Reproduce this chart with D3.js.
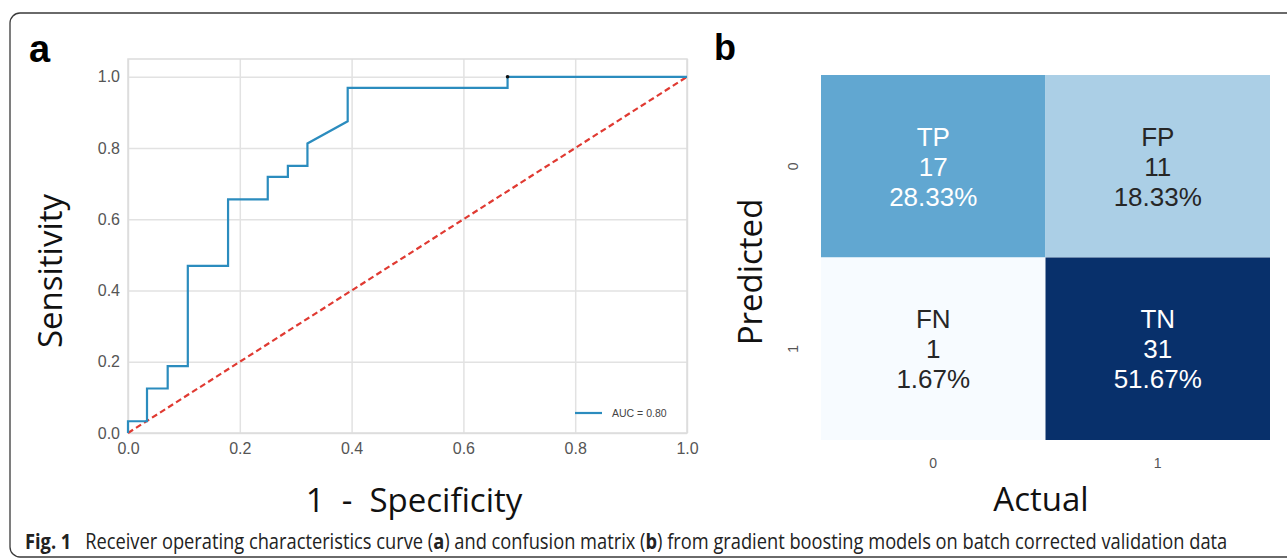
<!DOCTYPE html>
<html>
<head>
<meta charset="utf-8">
<script src="https://cdn.jsdelivr.net/npm/d3@7"></script>
<style>
  body { margin: 0; background: #fff; }
  svg { display: block; }
</style>
</head>
<body>
<svg></svg>
<script>
// ROC curve points
const fpr = [0, 0, 0.034, 0.034, 0.071, 0.071, 0.107, 0.107, 0.179, 0.179, 0.25, 0.25, 0.286, 0.286, 0.321, 0.321, 0.393, 0.393, 0.679, 0.679, 1];
const tpr = [0, 0.033, 0.033, 0.125, 0.125, 0.188, 0.188, 0.469, 0.469, 0.656, 0.656, 0.719, 0.719, 0.75, 0.75, 0.813, 0.875, 0.969, 0.969, 1, 1];
const rocTicks = [0, 0.2, 0.4, 0.6, 0.8, 1.0];
const aucLabel = 'AUC = 0.80';

// confusion matrix, panel b
const predicted = ['0', '1'];
const actual = ['0', '1'];
const cmNames = ['TP', 'FP', 'FN', 'TN'];
const cmCounts = [17, 11, 1, 31];
const cmPercents = ['28.33%', '18.33%', '1.67%', '51.67%'];

const size = {w: 1287, h: 559};
const svg = d3.select('svg').attr('width', size.w).attr('height', size.h);

// figure frame, open on the right/bottom edges of the picture
svg.append('rect')
    .attr('x', 10).attr('y', 13)
    .attr('width', 1300).attr('height', 544)
    .attr('rx', 10)
    .attr('fill', 'none')
    .attr('stroke', '#3a3a3a')
    .attr('stroke-width', 1.3);

// panel letters
svg.append('text').attr('x', 29).attr('y', 62)
    .attr('font-family', 'Liberation Sans, Arial, sans-serif')
    .attr('font-weight', 'bold').attr('font-size', 38).text('a');
svg.append('text').attr('x', 714).attr('y', 60)
    .attr('font-family', 'Liberation Sans, Arial, sans-serif')
    .attr('font-weight', 'bold').attr('font-size', 36).text('b');

// ---------- panel a: ROC ----------
const x = d3.scaleLinear().domain([0, 1]).range([128, 687]);
const y = d3.scaleLinear().domain([0, 1.05]).range([433, 59]);

const rocG = svg.append('g').classed('roc', true);

// grid
rocG.append('g')
    .attr('transform', `translate(0,${y(0)})`)
    .call(d3.axisBottom(x).tickValues(rocTicks).tickSize(-(y(0) - y(1.05))).tickFormat(''))
    .call(g => g.select('.domain').remove())
    .call(g => g.selectAll('line').attr('stroke', '#e2e2e2').attr('stroke-width', 1.5));
rocG.append('g')
    .attr('transform', `translate(${x(0)},0)`)
    .call(d3.axisLeft(y).tickValues(rocTicks).tickSize(-(x(1) - x(0))).tickFormat(''))
    .call(g => g.select('.domain').remove())
    .call(g => g.selectAll('line').attr('stroke', '#e2e2e2').attr('stroke-width', 1.5));

// frame
rocG.append('rect')
    .attr('x', x(0)).attr('y', y(1.05))
    .attr('width', x(1) - x(0)).attr('height', y(0) - y(1.05))
    .attr('fill', 'none').attr('stroke', '#dcdcdc').attr('stroke-width', 1.5);

// tick labels
const tickFont = 'Liberation Sans, Arial, sans-serif';
rocG.append('g')
    .attr('transform', `translate(0,${y(0)})`)
    .call(d3.axisBottom(x).tickValues(rocTicks).tickSize(0).tickPadding(10).tickFormat(d3.format('.1f')))
    .call(g => g.select('.domain').remove())
    .call(g => g.selectAll('text').attr('font-family', tickFont).attr('font-size', 16).attr('fill', '#555'));
rocG.append('g')
    .attr('transform', `translate(${x(0)},0)`)
    .call(d3.axisLeft(y).tickValues(rocTicks).tickSize(0).tickPadding(8).tickFormat(d3.format('.1f')))
    .call(g => g.select('.domain').remove())
    .call(g => g.selectAll('text').attr('font-family', tickFont).attr('font-size', 16).attr('fill', '#555'));

// chance line
rocG.append('line')
    .attr('x1', x(0)).attr('y1', y(0))
    .attr('x2', x(1)).attr('y2', y(1))
    .attr('stroke', '#e03a32').attr('stroke-width', 2.2)
    .attr('stroke-dasharray', '6,3.5');

// ROC curve
const rocPts = fpr.map((f, i) => [f, tpr[i]]);
rocG.append('path')
    .datum(rocPts)
    .attr('fill', 'none')
    .attr('stroke', '#2b8cbe')
    .attr('stroke-width', 2.2)
    .attr('d', d3.line().x(d => x(d[0])).y(d => y(d[1])));

// small black marker at the last step
rocG.append('circle')
    .attr('cx', x(fpr[18])).attr('cy', y(tpr[19]))
    .attr('r', 1.8).attr('fill', '#111');

// legend
rocG.append('line')
    .attr('x1', 575).attr('x2', 602).attr('y1', 413).attr('y2', 413)
    .attr('stroke', '#2b8cbe').attr('stroke-width', 2.2);
rocG.append('text')
    .attr('x', 612).attr('y', 413).attr('dy', '0.35em')
    .attr('font-family', tickFont).attr('font-size', 10.5)
    .attr('fill', '#444').text(aucLabel);

// axis titles
const labelFont = 'Open Sans, sans-serif';
svg.append('text')
    .attr('transform', 'translate(62,271) rotate(-90)')
    .attr('text-anchor', 'middle')
    .attr('font-family', labelFont).attr('font-size', 33)
    .attr('fill', '#111').text('Sensitivity');
svg.append('text')
    .attr('x', 414).attr('y', 512)
    .attr('text-anchor', 'middle')
    .style('white-space', 'pre')
    .attr('font-family', labelFont).attr('font-size', 33)
    .attr('fill', '#111').text('1  -  Specificity');

// ---------- panel b: confusion matrix ----------
const xb = d3.scaleBand().domain(actual).range([821, 1270]);
const yb = d3.scaleBand().domain(predicted).range([75, 440]);
const color = d3.scaleSequential(d3.interpolateBlues).domain([d3.min(cmCounts), d3.max(cmCounts)]);

const cells = cmCounts.map((c, i) => ({
    row: predicted[Math.floor(i / 2)],
    col: actual[i % 2],
    name: cmNames[i],
    count: c,
    pct: cmPercents[i]
}));

const cmG = svg.append('g').classed('cm', true);
cmG.selectAll('rect')
    .data(cells)
    .enter()
    .append('rect')
    .attr('x', d => xb(d.col))
    .attr('y', d => yb(d.row))
    .attr('width', xb.bandwidth())
    .attr('height', yb.bandwidth())
    .attr('fill', d => color(d.count));

const cellText = cmG.selectAll('text.cell')
    .data(cells)
    .enter()
    .append('text')
    .classed('cell', true)
    .attr('text-anchor', 'middle')
    .attr('font-family', tickFont)
    .attr('font-size', 26)
    .attr('fill', d => (d.count > 14 ? '#ffffff' : '#262626'));
[d => d.name, d => d.count, d => d.pct].forEach((fn, k) => {
    cellText.append('tspan')
        .attr('x', d => xb(d.col) + xb.bandwidth() / 2)
        .attr('y', d => yb(d.row) + yb.bandwidth() / 2 + (k - 1) * 30)
        .attr('dy', '0.36em')
        .text(fn);
});

// tick labels
cmG.append('g')
    .attr('transform', `translate(0,${yb.range()[1]})`)
    .call(d3.axisBottom(xb).tickSize(0).tickPadding(18))
    .call(g => g.select('.domain').remove())
    .call(g => g.selectAll('text').attr('font-family', tickFont).attr('font-size', 14).attr('fill', '#555'));
cmG.append('g')
    .attr('transform', `translate(${xb.range()[0]},0)`)
    .call(d3.axisLeft(yb).tickSize(0))
    .call(g => g.select('.domain').remove())
    .call(g => g.selectAll('text')
        .attr('x', null).attr('dy', '0.35em')
        .attr('text-anchor', 'middle')
        .attr('transform', 'translate(-28,0) rotate(-90)')
        .attr('font-family', tickFont).attr('font-size', 14).attr('fill', '#555'));

svg.append('text')
    .attr('transform', 'translate(762,272) rotate(-90)')
    .attr('text-anchor', 'middle')
    .attr('font-family', labelFont).attr('font-size', 33)
    .attr('fill', '#111').text('Predicted');
svg.append('text')
    .attr('x', 1041).attr('y', 511)
    .attr('text-anchor', 'middle')
    .attr('font-family', labelFont).attr('font-size', 33)
    .attr('fill', '#111').text('Actual');

// ---------- caption ----------
// natural width is measured, then the line is squeezed horizontally to the reference width
const cap = svg.append('text')
    .attr('font-family', labelFont).attr('font-size', 21)
    .attr('fill', '#222');
cap.append('tspan').attr('font-weight', 'bold').text('Fig. 1');
cap.append('tspan').text('\u2002 Receiver operating characteristics curve (');
cap.append('tspan').attr('font-weight', 'bold').text('a');
cap.append('tspan').text(') and confusion matrix (');
cap.append('tspan').attr('font-weight', 'bold').text('b');
cap.append('tspan').text(') from gradient boosting models on batch corrected validation data');
const capLen = cap.node().getComputedTextLength();
cap.attr('transform', `translate(25,549) scale(${1203 / capLen},1)`);
</script>
</body>
</html>
